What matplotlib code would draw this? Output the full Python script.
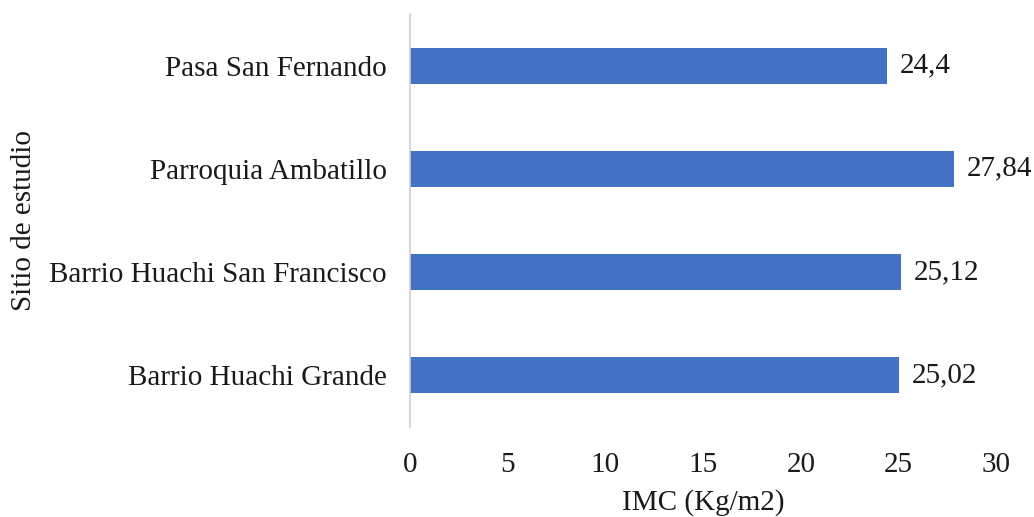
import matplotlib.pyplot as plt

# Datos: IMC promedio por sitio de estudio
sitios = ['Barrio Huachi Grande', 'Barrio Huachi San Francisco',
          'Parroquia Ambatillo', 'Pasa San Fernando']
imc = [25.02, 25.12, 27.84, 24.4]
etiquetas = ['25,02', '25,12', '27,84', '24,4']
xticks = [0, 5, 10, 15, 20, 25, 30]

plt.rcParams['font.family'] = ['Liberation Serif', 'DejaVu Serif']

fig = plt.figure(figsize=(10.34, 5.17), dpi=100)
ax = fig.add_axes([0.3965, 0.174, 0.5672, 0.799])

ypos = range(len(sitios))
ax.barh(ypos, imc, height=0.35, color='#4472C4')

for y, v, t in zip(ypos, imc, etiquetas):
    ax.text(v + 0.65, y, t, va='center', ha='left', fontsize=21, color='#1a1a1a')

ax.set_xlim(0, 30)
ax.set_ylim(-0.5, 3.5)
ax.set_xticks(xticks)
ax.set_yticks(list(ypos))
ax.set_yticklabels(sitios)
ax.tick_params(axis='both', length=0, labelsize=21, colors='#1a1a1a')
ax.tick_params(axis='x', pad=18)
ax.tick_params(axis='y', pad=16.5)

for s in ['top', 'right', 'bottom']:
    ax.spines[s].set_visible(False)
ax.spines['left'].set_color('#d0d0d0')
ax.spines['left'].set_linewidth(1.2)

ax.set_xlabel('IMC (Kg/m2)', fontsize=21, color='#1a1a1a', labelpad=8)
ax.set_ylabel('Sitio de estudio', fontsize=21, color='#1a1a1a', labelpad=9)

fig.savefig('out.png', dpi=100)
